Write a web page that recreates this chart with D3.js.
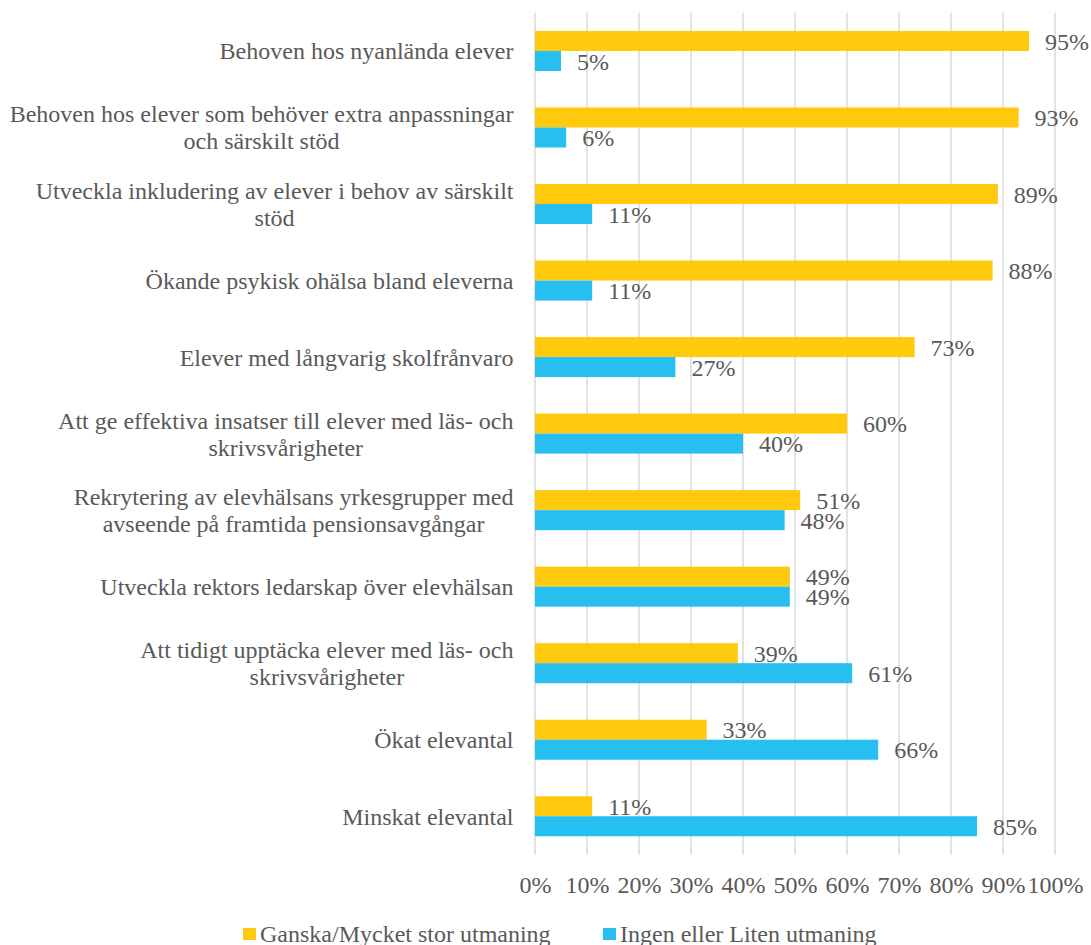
<!DOCTYPE html>
<html>
<head>
<meta charset="utf-8">
<script src="https://cdn.jsdelivr.net/npm/d3@7"></script>
<style>
  html, body { margin: 0; padding: 0; background: #fff; }
  svg text { font-family: "Liberation Serif", "Times New Roman", serif; fill: #595959; }
</style>
</head>
<body>
<svg id="chart" width="1091" height="945"></svg>
<script>
// Categories (line breaks as wrapped in the label column)
const categories = [
  "Behoven hos nyanlända elever",
  "Behoven hos elever som behöver extra anpassningar\noch särskilt stöd",
  "Utveckla inkludering av elever i behov av särskilt\nstöd",
  "Ökande psykisk ohälsa bland eleverna",
  "Elever med långvarig skolfrånvaro",
  "Att ge effektiva insatser till elever med läs- och\nskrivsvårigheter",
  "Rekrytering av elevhälsans yrkesgrupper med\navseende på framtida pensionsavgångar",
  "Utveckla rektors ledarskap över elevhälsan",
  "Att tidigt upptäcka elever med läs- och\nskrivsvårigheter",
  "Ökat elevantal",
  "Minskat elevantal"
];
const seriesNames = ["Ganska/Mycket stor utmaning", "Ingen eller Liten utmaning"];
const stor  = [95, 93, 89, 88, 73, 60, 51, 49, 39, 33, 11];
const liten = [5, 6, 11, 11, 27, 40, 48, 49, 61, 66, 85];
const tickValues = [0, 10, 20, 30, 40, 50, 60, 70, 80, 90, 100];
const colors = ["#FFC90E", "#26BFF0"];

const serif = '"Liberation Serif", "Times New Roman", serif';
const fontSize = 24;
const svg = d3.select("#chart");

const x = d3.scaleLinear().domain([0, 100]).range([535, 1055]);
const y = d3.scaleBand().domain(d3.range(categories.length))
  .range([12.7, 854.5]).paddingInner(0.477).paddingOuter(0.2385);
const ySub = d3.scaleBand().domain([0, 1]).range([0, y.bandwidth()]);

// Vertical gridlines
svg.append("g").selectAll("line").data(tickValues).join("line")
  .attr("x1", d => x(d)).attr("x2", d => x(d))
  .attr("y1", y.range()[0]).attr("y2", y.range()[1])
  .attr("stroke", "#D9D9D9").attr("stroke-width", 1.5);

// X axis tick labels
const xAxis = d3.axisBottom(x).tickValues(tickValues).tickFormat(d => d + "%").tickSize(0).tickPadding(0);
const gx = svg.append("g").attr("transform", "translate(0,893)").call(xAxis)
  .attr("font-family", serif).attr("font-size", fontSize);
gx.select(".domain").remove();
gx.selectAll("text").attr("dy", 0).attr("y", 0).attr("fill", "#595959");

// Bars and value labels
const series = [stor, liten];
series.forEach((vals, s) => {
  const g = svg.append("g");
  g.selectAll("rect").data(vals).join("rect")
    .attr("x", x(0))
    .attr("y", (d, i) => y(i) + ySub(s))
    .attr("width", d => x(d) - x(0))
    .attr("height", ySub.bandwidth())
    .attr("fill", colors[s]);
  g.selectAll("text").data(vals).join("text")
    .attr("x", d => x(d) + 16)
    .attr("y", (d, i) => y(i) + ySub(s) + ySub.bandwidth() / 2)
    .attr("dy", "0.36em")
    .attr("font-family", serif)
    .attr("font-size", fontSize)
    .text(d => d + "%");
});

// Category labels: block right-aligned, lines centred within the block
const labelRight = 513.5;
const lineH = 27;
categories.forEach((c, i) => {
  const lines = c.split("\n");
  const cy = y(i) + y.bandwidth() / 2;
  const t = svg.append("text")
    .attr("font-family", serif).attr("font-size", fontSize)
    .attr("text-anchor", "middle");
  lines.forEach((ln, k) => {
    t.append("tspan").text(ln)
      .attr("y", cy + 8.5 + (k - (lines.length - 1) / 2) * lineH);
  });
  let maxW = 0;
  t.selectAll("tspan").each(function () { maxW = Math.max(maxW, this.getComputedTextLength()); });
  t.selectAll("tspan").attr("x", labelRight - maxW / 2);
});

// Legend
const legendX = [243, 603];
seriesNames.forEach((n, s) => {
  const g = svg.append("g").attr("transform", `translate(${legendX[s]},928)`);
  g.append("rect").attr("width", 13).attr("height", 12).attr("fill", colors[s]);
  g.append("text").attr("x", 17).attr("y", 13.5)
    .attr("font-family", serif).attr("font-size", fontSize).text(n);
});
</script>
</body>
</html>
